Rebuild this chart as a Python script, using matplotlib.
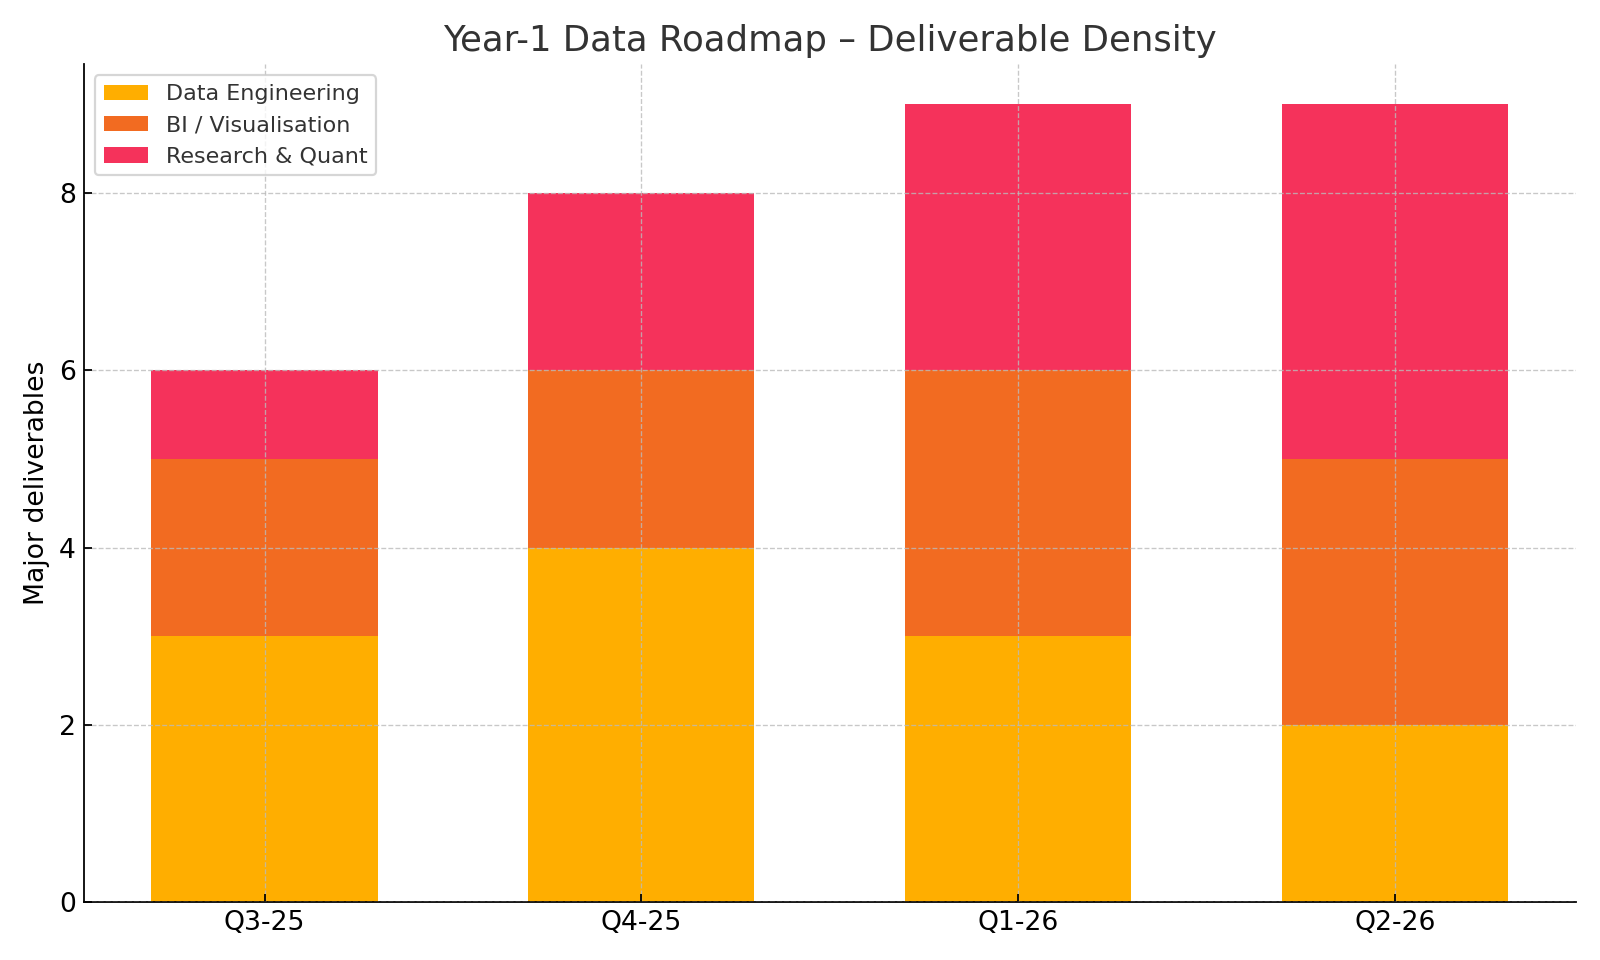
import numpy as np
import matplotlib.pyplot as plt

# Quarters and deliverables per stream
quarters = ['Q3-25', 'Q4-25', 'Q1-26', 'Q2-26']
data_eng = [3, 4, 3, 2]
bi_vis = [2, 2, 3, 3]
research = [1, 2, 3, 4]

labels = ['Data Engineering', 'BI / Visualisation', 'Research & Quant']
colors = ['#FFAE00', '#F26B21', '#F5325B']

plt.rcParams['text.color'] = '#333333'
fig, ax = plt.subplots(figsize=(10, 6), dpi=160)

x = np.arange(len(quarters))
bottom = np.zeros(len(quarters))
for vals, lab, col in zip([data_eng, bi_vis, research], labels, colors):
    ax.bar(x, vals, 0.6, bottom=bottom, label=lab, color=col, zorder=1)
    bottom += np.array(vals)

ax.set_xticks(x)
ax.set_xticklabels(quarters)
ax.set_yticks([0, 2, 4, 6, 8])
ax.set_ylabel('Major deliverables', fontsize=12)
ax.set_title('Year-1 Data Roadmap \u2013 Deliverable Density', fontsize=16)
ax.tick_params(labelsize=12, direction='in')
ax.grid(True, linestyle='--', linewidth=0.6, color='#bbbbbb', alpha=0.8, zorder=2)
ax.set_axisbelow(False)
ax.spines['top'].set_visible(False)
ax.spines['right'].set_visible(False)
ax.legend(loc='upper left', fontsize=10)

plt.tight_layout()
plt.savefig('out.png')
